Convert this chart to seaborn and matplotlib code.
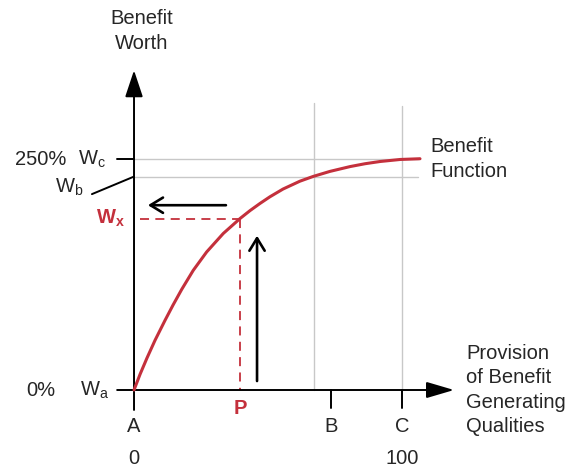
import numpy as np
import pandas as pd
import seaborn as sns
import matplotlib
matplotlib.use("Agg")
import matplotlib.pyplot as plt

# curve (x: provision 0..100, y: benefit worth in %)
curve_x = [0, 2.24, 4.85, 7.84, 11.57, 14.55, 17.8, 22.1, 27.1, 33.3, 39.6, 43.3,
           47.0, 50.7, 55.6, 61.9, 66.8, 73.1, 80.6, 86.2, 91.8, 99.3, 106.7]
curve_y = [0, 16.9, 34.7, 53.8, 75.4, 91.9, 108.9, 129.5, 149.4, 169.4, 185.7, 194.2,
           201.9, 209.1, 217.5, 226.0, 231.1, 236.6, 241.8, 244.9, 247.3, 249.5, 250.3]

W_C = 250      # 250 %
W_B = 231
W_X = 185.5
P_X = 39.6
B_GRID = 67.2
B_TICK = 73.5
C_X = 100

RED = "#c4303c"
GREY = "#c8c8c8"
TXT = "#262626"

sns.set_style("white")
plt.rcParams['font.family'] = ['Liberation Sans', 'DejaVu Sans']
plt.rcParams['mathtext.fontset'] = 'custom'
plt.rcParams['mathtext.rm'] = 'Liberation Sans'
plt.rcParams['mathtext.bf'] = 'Liberation Sans:bold'
plt.rcParams['mathtext.it'] = 'Liberation Sans'

fig = plt.figure(figsize=(5.65, 4.69), dpi=100)
ax = fig.add_axes([0, 0, 1, 1])

# grey reference lines
ax.plot([0, 106], [W_C, W_C], color=GREY, lw=1, zorder=1)
ax.plot([0, 106], [W_B, W_B], color=GREY, lw=1, zorder=1)
ax.plot([B_GRID, B_GRID], [0, 311], color=GREY, lw=1, zorder=1)
ax.plot([C_X, C_X], [0, 307], color=GREY, lw=1, zorder=1)

# benefit function
df = pd.DataFrame({"x": curve_x, "y": curve_y})
sns.lineplot(data=df, x="x", y="y", ax=ax, color=RED, lw=2.2, zorder=4, sort=False)
ax.set_xlim(-50, 160.8)
ax.set_ylim(-85.5, 422.1)
ax.axis("off")

# red dashed guides
ax.plot([2.2, P_X], [W_X, W_X], color=RED, lw=1.3, ls=(0, (5, 3.5)), zorder=3)
ax.plot([P_X, P_X], [W_X, 0], color=RED, lw=1.3, ls=(0, (5, 3.5)), zorder=3)

# axes with arrow heads
ax.annotate("", xy=(0, 346), xytext=(0, -21.6),
            arrowprops=dict(arrowstyle="-|>,head_length=1.65,head_width=0.55",
                            mutation_scale=10, color="black", lw=1.4,
                            shrinkA=0, shrinkB=0))
ax.annotate("", xy=(119.4, 0), xytext=(-6.3, 0),
            arrowprops=dict(arrowstyle="-|>,head_length=1.7,head_width=0.5",
                            mutation_scale=10, color="black", lw=1.4,
                            shrinkA=0, shrinkB=0))
for tx in [B_TICK, C_X]:
    ax.plot([tx, tx], [0, -19.5], color="black", lw=1.4)
ax.plot([-6.3, 0], [W_C, W_C], color="black", lw=1.4)
ax.plot([0, -15.7], [W_B, 212], color="black", lw=1.4)

# black movement arrows
ax.annotate("", xy=(5.2, 200), xytext=(34.3, 200),
            arrowprops=dict(arrowstyle="->,head_length=0.9,head_width=0.55",
                            mutation_scale=10, color="black", lw=1.9,
                            shrinkA=0, shrinkB=0))
ax.annotate("", xy=(45.9, 167), xytext=(45.9, 9.7),
            arrowprops=dict(arrowstyle="->,head_length=0.9,head_width=0.55",
                            mutation_scale=10, color="black", lw=1.9,
                            shrinkA=0, shrinkB=0))

fs = 14.5
ax.text(3, 388.5, "Benefit\nWorth", ha="center", va="center", fontsize=fs, color=TXT,
        linespacing=1.45)
ax.text(-25.4, W_C, "250%", ha="right", va="center", fontsize=fs, color=TXT)
ax.text(-20.9, W_C, r"W$_{\mathrm{c}}$", ha="left", va="center", fontsize=fs, color=TXT)
ax.text(-29.5, 219, r"W$_{\mathrm{b}}$", ha="left", va="center", fontsize=fs, color=TXT)
ax.text(-14.2, 186, r"$\mathbf{W}_{\mathbf{x}}$", ha="left", va="center", fontsize=fs, color=RED)
ax.text(-29.5, 0, "0%", ha="right", va="center", fontsize=fs, color=TXT)
ax.text(-20.1, 0, r"W$_{\mathrm{a}}$", ha="left", va="center", fontsize=fs, color=TXT)
for lx, lab in [(0, "A"), (B_TICK, "B"), (C_X, "C")]:
    ax.text(lx, -39, lab, ha="center", va="center", fontsize=fs, color=TXT)
ax.text(P_X, -19.5, "P", ha="center", va="center", fontsize=fs, color=RED, fontweight="bold")
ax.text(0, -74.5, "0", ha="center", va="center", fontsize=fs, color=TXT)
ax.text(C_X, -74.5, "100", ha="center", va="center", fontsize=fs, color=TXT)
ax.text(110.4, W_C, "Benefit\nFunction", ha="left", va="center", fontsize=fs, color=TXT,
        linespacing=1.35)
ax.text(123.9, 0, "Provision\nof Benefit\nGenerating\nQualities", ha="left", va="center",
        fontsize=fs, color=TXT, linespacing=1.35)

fig.savefig("out.png", dpi=100)
